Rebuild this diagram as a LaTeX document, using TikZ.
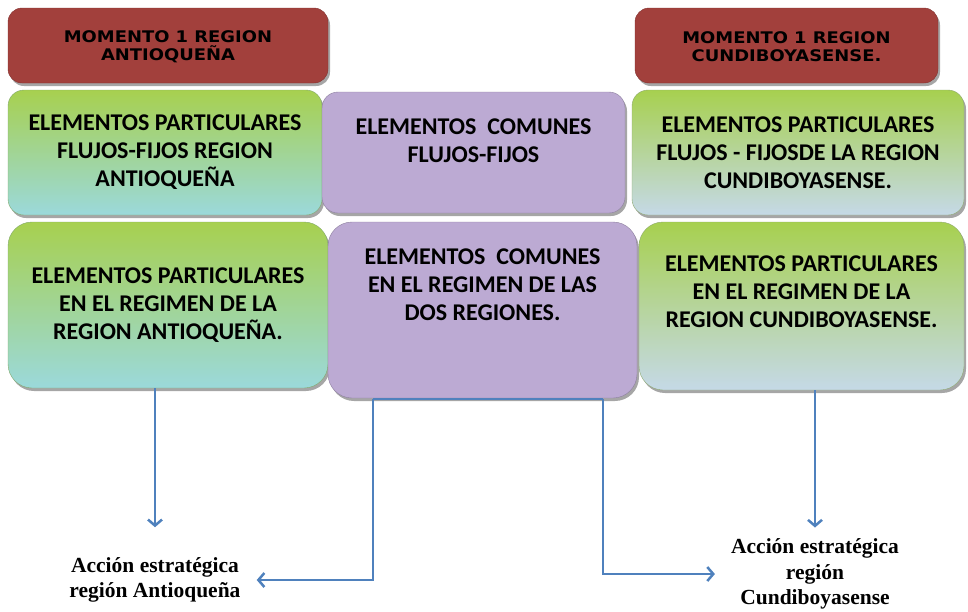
\documentclass[tikz,border=0pt]{standalone}
\usepackage{fontspec}
\setmainfont{Carlito}
\newfontfamily\momfont{DejaVu Sans}[FakeStretch=1.12]
\newfontfamily\accfont{Liberation Serif}
\usetikzlibrary{shadows,arrows.meta}
\definecolor{rojo}{HTML}{A2403C}
\definecolor{verde}{HTML}{A7D04F}
\definecolor{cian}{HTML}{9BD9DB}
\definecolor{celeste}{HTML}{C5D9E7}
\definecolor{lila}{HTML}{BCAAD3}
\definecolor{azul}{HTML}{4F81BD}

\begin{document}
\begin{tikzpicture}[x=1pt, y=-1pt,
    sombra/.style={drop shadow={shadow xshift=2pt, shadow yshift=-3pt, opacity=.35, fill=black}},
    momento/.style={sombra, rounded corners=14pt, fill=rojo, draw=rojo!80!black,
        minimum width=#1, minimum height=75pt},
    momtexto/.style={align=center, font=\momfont\bfseries\fontsize{16}{18}\selectfont},
    particular/.style={sombra, top color=verde, bottom color=#1, draw=verde!60!#1!80!black,
        align=center, font=\bfseries\fontsize{24}{28}\selectfont},
    comun/.style={sombra, fill=lila, draw=lila!75!black},
    texto/.style={align=center, font=\bfseries\fontsize{24}{28}\selectfont},
    accion/.style={align=center, inner sep=0pt, font=\accfont\bfseries\fontsize{21.5}{25.5}\selectfont},
    conector/.style={azul, line width=2.5pt},
    flecha/.style={conector, -{Straight Barb[length=6pt, width=14pt, line width=2.5pt]}}]
    \useasboundingbox (0,0) rectangle (968,611);
    % momentos
    \node[momento=320pt] (mA) at (168,45.5) {};
    \node[momtexto] (tmA) at (168,47) {MOMENTO 1 REGION\\ANTIOQUEÑA};
    \node[momento=303pt] (mC) at (786.5,45.5) {};
    \node[momtexto] (tmC) at (786.5,47) {MOMENTO 1 REGION\\CUNDIBOYASENSE.};
    % fila flujos-fijos
    \node[particular=cian, rounded corners=16pt, minimum width=314pt, minimum height=125pt] (pA1) at (165,152.5)
        {ELEMENTOS PARTICULARES\\FLUJOS-FIJOS REGION\\ANTIOQUEÑA};
    \node[comun, rounded corners=16pt, minimum width=303pt, minimum height=121pt] (c1) at (473.5,152.5) {};
    \node[texto] (tc1) at (473.5,141) {ELEMENTOS\ \ COMUNES\\FLUJOS-FIJOS};
    \node[particular=celeste, rounded corners=16pt, minimum width=332pt, minimum height=125pt] (pC1) at (798,152.5)
        {ELEMENTOS PARTICULARES\\FLUJOS - FIJOSDE LA REGION\\CUNDIBOYASENSE.};
    % fila regimen
    \node[particular=cian, rounded corners=24pt, minimum width=320pt, minimum height=166pt] (pA2) at (168,305)
        {ELEMENTOS PARTICULARES\\EN EL REGIMEN DE LA\\REGION ANTIOQUEÑA.};
    \node[comun, rounded corners=24pt, minimum width=309pt, minimum height=176pt] (c2) at (482.5,310) {};
    \node[texto] (tc2) at (482.5,285) {ELEMENTOS\ \ COMUNES\\EN EL REGIMEN DE LAS\\DOS REGIONES.};
    \node[particular=celeste, rounded corners=24pt, minimum width=325pt, minimum height=168pt] (pC2) at (801.5,306) {};
    \node[texto] (tC2) at (801.5,291.5) {ELEMENTOS PARTICULARES\\EN EL REGIMEN DE LA\\REGION CUNDIBOYASENSE.};
    % acciones
    \node[accion] (accA) at (155,580) {Acción estratégica\\región Antioqueña};
    \node[accion] (accC) at (815,574) {Acción estratégica\\región\\Cundiboyasense};
    \coordinate (bI) at (373,399);
    \coordinate (bD) at (603,399);
    \draw[flecha] (accA |- pA2.south) -- ([yshift=30pt]accA.north);
    \draw[flecha] (accC |- pC2.south) -- ([yshift=11pt]accC.north);
    \draw[conector] (bI) -- (bD);
    \draw[flecha, shorten >=16pt] (bI) |- (accA.east);
    \draw[flecha, shorten >=16pt] (bD) |- (accC.west);
\end{tikzpicture}
\end{document}
